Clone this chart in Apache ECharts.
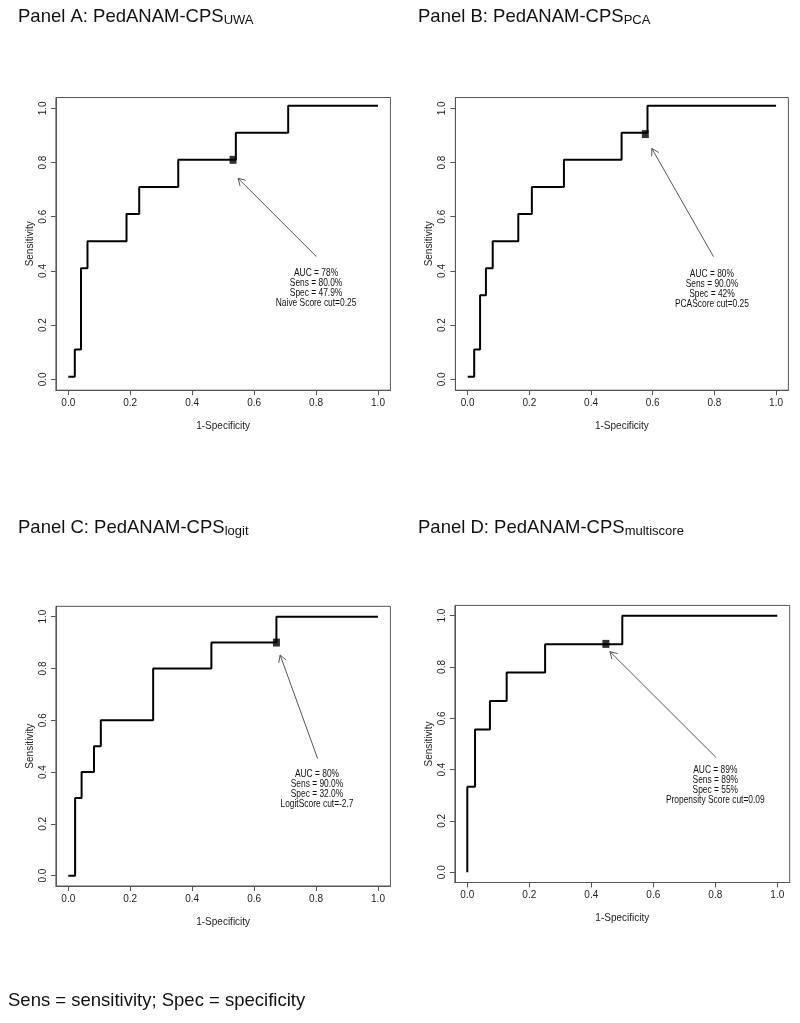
<!DOCTYPE html>
<html>
<head>
<meta charset="utf-8">
<script src="https://cdn.jsdelivr.net/npm/echarts@6/dist/echarts.min.js"></script>
<style>html,body{margin:0;padding:0;background:#fff}#chart{width:800px;height:1023px}</style>
</head>
<body>
<div id="chart"></div>
<script>
// ---- data ----
const panelTitles = ['Panel A: PedANAM-CPS', 'Panel B: PedANAM-CPS', 'Panel C: PedANAM-CPS', 'Panel D: PedANAM-CPS'];
const panelSubscripts = ['UWA', 'PCA', 'logit', 'multiscore'];
const tickValues = [0, 0.2, 0.4, 0.6, 0.8, 1.0];

const panelA_fpr = [0, 0.021, 0.041, 0.062, 0.188, 0.229, 0.355, 0.541, 0.71, 1.0];
const panelA_tpr = [0.01, 0.11, 0.41, 0.51, 0.61, 0.71, 0.81, 0.91, 1.01, 1.01];
const panelB_fpr = [0, 0.021, 0.04, 0.059, 0.081, 0.164, 0.208, 0.312, 0.499, 0.583, 1.0];
const panelB_tpr = [0.01, 0.11, 0.31, 0.41, 0.51, 0.61, 0.71, 0.81, 0.91, 1.01, 1.01];
const panelC_fpr = [0, 0.022, 0.043, 0.083, 0.105, 0.274, 0.462, 0.672, 1.0];
const panelC_tpr = [0, 0.30, 0.40, 0.50, 0.60, 0.80, 0.90, 1.00, 1.00];
const panelD_fpr = [0, 0, 0.025, 0.073, 0.127, 0.251, 0.5, 1.0];
const panelD_tpr = [0, 0.333, 0.556, 0.667, 0.778, 0.889, 1.0, 1.0];

const cutPointX = [0.532, 0.576, 0.672, 0.447];
const cutPointY = [0.81, 0.905, 0.90, 0.89];

// arrows: [fromX, fromY, toX, toY]
const arrowA = [0.801, 0.453, 0.548, 0.742];
const arrowB = [0.797, 0.453, 0.597, 0.852];
const arrowC = [0.805, 0.452, 0.684, 0.852];
const arrowD = [0.802, 0.448, 0.460, 0.860];

const noteX = [0.80, 0.792, 0.803, 0.80];
const noteY = [0.337, 0.333, 0.333, 0.338];
const notesA = ['AUC = 78%', 'Sens = 80.0%', 'Spec = 47.9%', 'Naive Score cut=0.25'];
const notesB = ['AUC = 80%', 'Sens = 90.0%', 'Spec = 42%', 'PCAScore cut=0.25'];
const notesC = ['AUC = 80%', 'Sens = 90.0%', 'Spec = 32.0%', 'LogitScore cut=-2.7'];
const notesD = ['AUC = 89%', 'Sens = 89%', 'Spec = 55%', 'Propensity Score cut=0.09'];

const xAxisName = '1-Specificity';
const yAxisName = 'Sensitivity';
const footerText = 'Sens = sensitivity; Spec = specificity';

// ---- build ----
const fprs = [panelA_fpr, panelB_fpr, panelC_fpr, panelD_fpr];
const tprs = [panelA_tpr, panelB_tpr, panelC_tpr, panelD_tpr];
const arrows = [arrowA, arrowB, arrowC, arrowD];
const notes = [notesA, notesB, notesC, notesD];

const SANS = '"Liberation Sans", Arial, Helvetica, sans-serif';

const grids = [
  {left: 55.9, top: 97.5, width: 334.5, height: 292.7},
  {left: 455.4, top: 97.5, width: 333.0, height: 292.7},
  {left: 55.9, top: 606.3, width: 334.5, height: 279.7},
  {left: 454.9, top: 605.4, width: 334.8, height: 277.1}
];
const titlePos = [[18, 7], [418, 7], [18, 518], [418, 518]];

const option = {
  animation: false,
  backgroundColor: '#fff',
  title: panelTitles.map((t, i) => ({
    left: titlePos[i][0], top: titlePos[i][1], padding: 0,
    text: '{m|' + t + '}{s|' + panelSubscripts[i] + '}',
    textStyle: {
      fontWeight: 'normal',
      rich: {
        m: {fontFamily: SANS, fontSize: 18.5, fontWeight: 'normal', color: '#111', verticalAlign: 'bottom', padding: [0, 0, 1, 0]},
        s: {fontFamily: SANS, fontSize: 13, fontWeight: 'normal', color: '#111', verticalAlign: 'bottom'}
      }
    }
  })),
  graphic: [{
    type: 'text', left: 8, top: 991,
    style: {text: footerText, font: '18.5px ' + SANS, fill: '#111'}
  }],
  grid: grids.map(g => Object.assign({show: true, borderColor: '#555', borderWidth: 1, backgroundColor: 'transparent'}, g)),
  xAxis: grids.map((g, i) => ({
    type: 'value', gridIndex: i, min: -0.04, max: 1.04,
    splitLine: {show: false},
    axisLine: {show: true, onZero: false, lineStyle: {color: '#555', width: 1}},
    axisTick: {show: true, customValues: tickValues, length: 5, lineStyle: {color: '#555'}},
    axisLabel: {customValues: tickValues, formatter: v => v.toFixed(1), margin: 8, fontSize: 10, fontFamily: SANS, color: '#222'},
    name: xAxisName, nameLocation: 'middle', nameGap: 31,
    nameTextStyle: {fontSize: 10, fontFamily: SANS, color: '#222'}
  })),
  yAxis: grids.map((g, i) => ({
    type: 'value', gridIndex: i, min: -0.04, max: 1.04,
    splitLine: {show: false},
    axisLine: {show: true, onZero: false, lineStyle: {color: '#555', width: 1}},
    axisTick: {show: true, customValues: tickValues, length: 5, lineStyle: {color: '#555'}},
    axisLabel: {customValues: tickValues, formatter: v => v.toFixed(1), margin: 8, rotate: 90, fontSize: 10, fontFamily: SANS, color: '#222'},
    name: yAxisName, nameLocation: 'middle', nameGap: 21, nameRotate: 90,
    nameTextStyle: {fontSize: 10, fontFamily: SANS, color: '#222'}
  })),
  series: []
};

for (let i = 0; i < 4; i++) {
  option.series.push({
    type: 'line', xAxisIndex: i, yAxisIndex: i, step: 'end',
    data: fprs[i].map((x, k) => [x, tprs[i][k]]),
    showSymbol: false, symbol: 'none',
    lineStyle: {color: '#000', width: 2}, silent: true, z: 3
  });
  option.series.push({
    type: 'scatter', xAxisIndex: i, yAxisIndex: i,
    data: [[cutPointX[i], cutPointY[i]]],
    symbol: 'rect', symbolSize: [7, 8], itemStyle: {color: '#000'}, z: 4, silent: true
  });
  option.series.push({
    type: 'custom', xAxisIndex: i, yAxisIndex: i,
    data: [arrows[i]], silent: true, z: 2,
    renderItem: function (params, api) {
      const p1 = api.coord([api.value(0), api.value(1)]);
      const p2 = api.coord([api.value(2), api.value(3)]);
      const ang = Math.atan2(p2[1] - p1[1], p2[0] - p1[0]);
      const L = 8, a = Math.PI / 6;
      const h1 = [p2[0] - L * Math.cos(ang - a), p2[1] - L * Math.sin(ang - a)];
      const h2 = [p2[0] - L * Math.cos(ang + a), p2[1] - L * Math.sin(ang + a)];
      return {type: 'group', children: [
        {type: 'line', shape: {x1: p1[0], y1: p1[1], x2: p2[0], y2: p2[1]}, style: {stroke: '#555', lineWidth: 1}},
        {type: 'polyline', shape: {points: [h1, p2, h2]}, style: {stroke: '#555', fill: null, lineWidth: 1}}
      ]};
    }
  });
  const txt = notes[i].join('\n');
  option.series.push({
    type: 'custom', xAxisIndex: i, yAxisIndex: i,
    data: [[noteX[i], noteY[i]]], silent: true, z: 5,
    renderItem: function (params, api) {
      const p = api.coord([api.value(0), api.value(1)]);
      return {type: 'text', x: p[0], y: p[1], scaleX: 0.8, style: {
        text: txt, align: 'center', verticalAlign: 'middle',
        fontSize: 10.5, fontFamily: SANS, lineHeight: 10, fill: '#111'
      }};
    }
  });
}

const chart = echarts.init(document.getElementById('chart'), null, {renderer: 'canvas'});
chart.setOption(option);
</script>
</body>
</html>
